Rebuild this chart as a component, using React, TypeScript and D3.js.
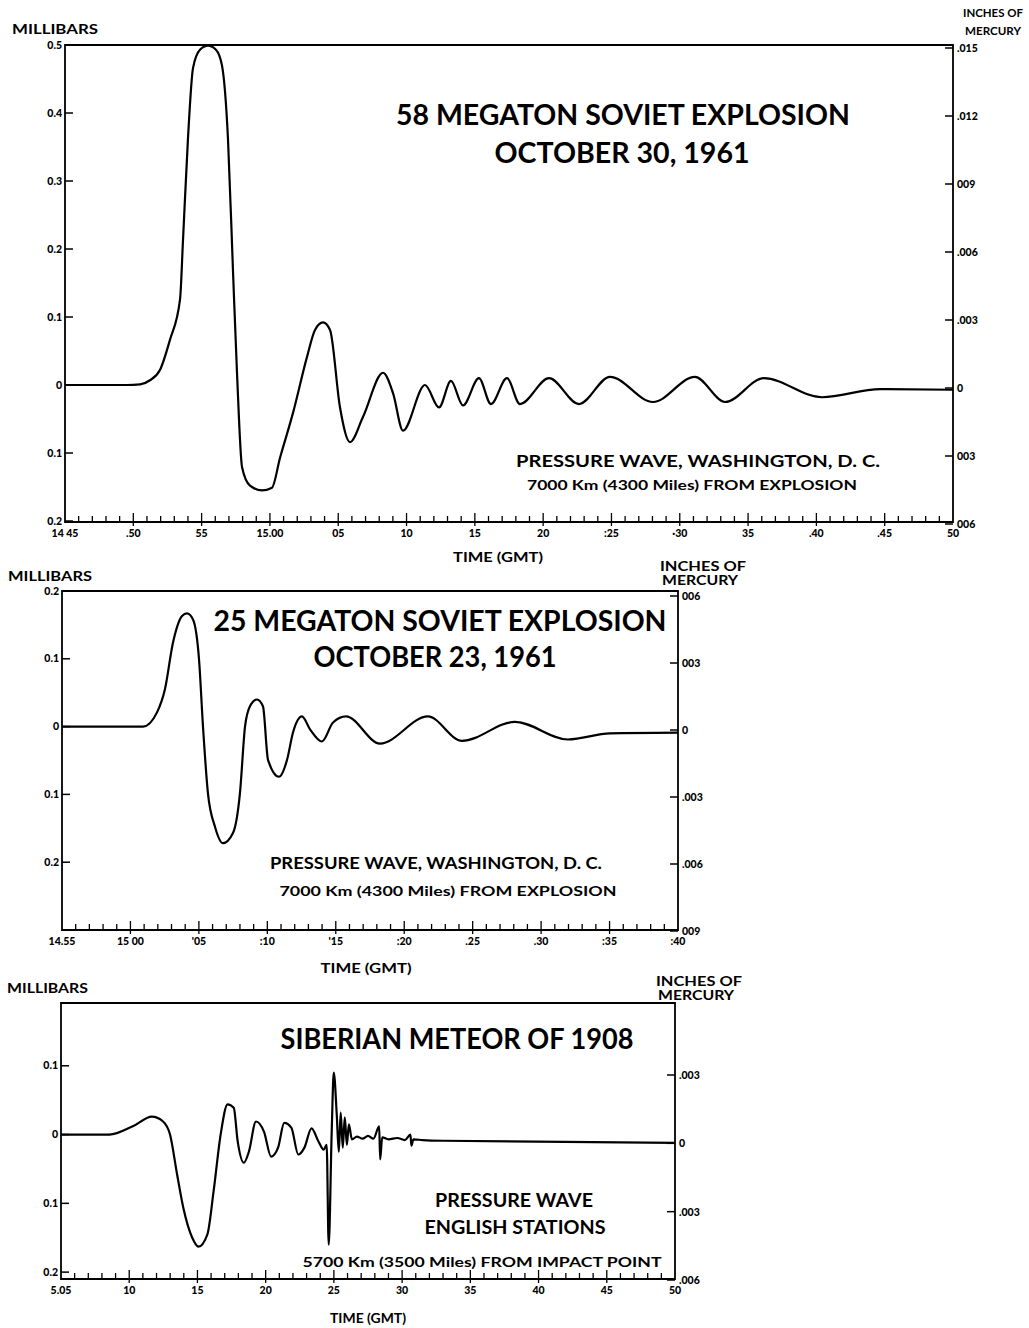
import * as d3 from 'd3';

const FONT = "Lato, 'DejaVu Sans', sans-serif";

// ---- 58 megaton, 30 Oct 1961 (minutes after 14:45, millibars)
const megaton58Time = [
  0, 4.5, 5.5, 6.22, 6.95, 7.69, 8.42, 8.64, 9.0, 9.37, 9.88, 10.47, 11.05, 11.49, 11.93, 12.3,
  12.59, 12.96, 13.54, 14.42, 15.15, 15.74, 16.69, 17.71, 18.3, 18.89, 19.4, 20.13, 20.86, 21.81,
  23.28, 24.01, 24.74, 26.35, 27.38, 28.25, 29.13, 30.3, 31.18, 32.35, 33.3, 35.43, 37.62, 39.89,
  43.04, 46.11, 48.31, 51.16, 55.41, 59.66, 65,
];
const megaton58Pressure = [
  0, 0, 0.001, 0.007, 0.022, 0.067, 0.126, 0.214, 0.362, 0.466, 0.493, 0.499, 0.493, 0.47, 0.362,
  0.166, 0.018, -0.121, -0.148, -0.155, -0.151, -0.107, -0.041, 0.041, 0.081, 0.092, 0.081, -0.033,
  -0.084, -0.047, 0.018, -0.012, -0.067, 0.0, -0.033, 0.006, -0.03, 0.01, -0.028, 0.01, -0.028,
  0.01, -0.028, 0.012, -0.025, 0.012, -0.025, 0.01, -0.018, -0.006, -0.007,
];

// ---- 25 megaton, 23 Oct 1961 (minutes after 14:55)
const megaton25Time = [
  0, 5.92, 6.94, 7.52, 8.11, 8.77, 9.13, 9.57, 10.01, 10.3, 10.66, 11.18, 11.76, 12.49, 13.0, 13.37,
  13.73, 14.24, 14.68, 15.05, 15.85, 16.44, 16.87, 17.53, 18.12, 18.99, 19.8, 20.75, 23.23, 26.73,
  29.22, 33.09, 36.96, 40.03, 45,
];
const megaton25Pressure = [
  0, 0, 0.021, 0.055, 0.124, 0.163, 0.167, 0.158, 0.099, 0.0, -0.098, -0.148, -0.172, -0.157, -0.098,
  0.0, 0.03, 0.04, 0.03, -0.049, -0.074, -0.049, -0.009, 0.015, -0.004, -0.022, 0.006, 0.015, -0.025,
  0.015, -0.021, 0.007, -0.019, -0.01, -0.009,
];

// ---- Siberian meteor 1908 (minutes after 5:05)
const meteorTime = [
  0, 3.55, 5.26, 6.66, 7.48, 7.99, 8.51, 8.96, 9.62, 10.07, 10.73, 11.18, 11.7, 12.21, 12.66, 12.95,
  13.4, 13.77, 14.29, 14.88, 15.4, 15.91, 16.36, 16.88, 17.39, 17.84, 18.36, 18.87, 19.25, 19.47,
  19.62, 19.84, 19.99, 20.21, 20.36, 20.5, 20.65, 20.8, 20.95, 21.1, 21.32, 21.69, 22.1, 22.5, 22.9,
  23.32, 23.39, 23.54, 24.0, 24.65, 25.2, 25.61, 25.68, 25.83, 26.5, 27.98, 45,
];
const meteorPressure = [
  0, 0, 0.012, 0.026, 0.019, 0, -0.058, -0.106, -0.15, -0.163, -0.145, -0.083, 0, 0.044, 0.039,
  -0.01, -0.041, -0.025, 0.019, 0.004, -0.032, -0.019, 0.017, 0.01, -0.029, -0.019, 0.009, -0.01,
  -0.022, -0.015, -0.16, 0.004, 0.09, 0.029, -0.025, 0.032, -0.019, 0.025, -0.015, 0.015, -0.007,
  -0.003, -0.006, -0.002, -0.006, 0.012, -0.036, -0.004, -0.007, -0.005, -0.008, 0.0, -0.016, -0.007,
  -0.008, -0.009, -0.012,
];

const topXLabels = ['14 45', '.50', '55', '15.00', '05', '10', '15', '20', ':25', '\u00b730', '35', '.40', '.45', '50'];
const midXLabels = ['14.55', '15 00', "'05", ':10', "'15", ':20', '.25', '.30', ':35', ':40'];
const botXLabels = ['5.05', '10', '15', '20', '25', '30', '35', '40', '45', '50'];

const topMbTicks = [0.5, 0.4, 0.3, 0.2, 0.1, 0, -0.1, -0.2];
const topMbLabels = ['0.5', '0.4', '0.3', '0.2', '0.1', '0', '0.1', '0.2'];
const midMbTicks = [0.2, 0.1, 0, -0.1, -0.2];
const midMbLabels = ['0.2', '0.1', '0', '0.1', '0.2'];
const botMbTicks = [0.1, 0, -0.1, -0.2];
const botMbLabels = ['0.1', '0', '0.1', '0.2'];

const topHgTicks = [0.015, 0.012, 0.009, 0.006, 0.003, 0, -0.003, -0.006];
const topHgLabels = ['.015', '.012', '009', '.006', '.003', '0', '003', '006'];
const midHgTicks = [0.006, 0.003, 0, -0.003, -0.006, -0.009];
const midHgLabels = ['006', '003', '0', '.003', '.006', '009'];
const botHgTicks = [0.003, 0, -0.003, -0.006];
const botHgLabels = ['.003', '0', '.003', '.006'];

interface Txt {
  text: string;
  x: number;
  y: number;
  size: number;
  width?: number;
  anchor?: 'start' | 'middle' | 'end';
}

interface PanelProps {
  x0: number;
  x1: number;
  yTop: number;
  yBottom: number;
  minutes: number;
  yDomain: [number, number];
  yRange: [number, number];
  hgDomain: [number, number];
  hgRange: [number, number];
  time: number[];
  pressure: number[];
  xLabels: string[];
  mbTicks: number[];
  mbLabels: string[];
  hgTicks: number[];
  hgLabels: string[];
  texts: Txt[];
}

function Panel(p: PanelProps) {
  const x = d3.scaleLinear().domain([0, p.minutes]).range([p.x0, p.x1]);
  const y = d3.scaleLinear().domain(p.yDomain).range(p.yRange);
  const hg = d3.scaleLinear().domain(p.hgDomain).range(p.hgRange);
  const pts = p.time.map((t, i) => [t, p.pressure[i]] as [number, number]);
  const line = d3
    .line<[number, number]>()
    .x((d) => x(d[0]))
    .y((d) => y(d[1]))
    .curve(d3.curveMonotoneX);
  const minorTicks = d3.range(1, p.minutes);

  return (
    <g>
      {/* frame */}
      <path
        d={`M${p.x0},${p.yBottom}V${p.yTop}H${p.x1}V${p.yBottom}Z`}
        fill="none"
        stroke="#000"
        strokeWidth={1.8}
      />
      {/* time ticks */}
      {minorTicks.map((m) => {
        const major = m % 5 === 0;
        return (
          <line
            key={m}
            x1={x(m)}
            x2={x(m)}
            y1={p.yBottom + (major ? 4 : 0)}
            y2={p.yBottom - (major ? 9 : 6)}
            stroke="#000"
            strokeWidth={1.3}
          />
        );
      })}
      {p.xLabels.map((lab, i) => (
        <text
          key={lab + i}
          x={x(i * 5)}
          y={p.yBottom + 15}
          fontSize={10.5}
          fontWeight={900}
          textAnchor="middle"
        >
          {lab}
        </text>
      ))}
      {/* millibar axis */}
      {p.mbTicks.map((v, i) => (
        <g key={'mb' + i}>
          <line x1={p.x0} x2={p.x0 + 8} y1={y(v)} y2={y(v)} stroke="#000" strokeWidth={1.5} />
          <text x={p.x0 - 3} y={y(v) + 3.5} fontSize={10.5} fontWeight={900} textAnchor="end">
            {p.mbLabels[i]}
          </text>
        </g>
      ))}
      {/* inches of mercury axis */}
      {p.hgTicks.map((v, i) => (
        <g key={'hg' + i}>
          <line x1={p.x1 - 8} x2={p.x1} y1={hg(v)} y2={hg(v)} stroke="#000" strokeWidth={1.5} />
          <text x={p.x1 + 4} y={hg(v) + 4} fontSize={10.5} fontWeight={900}>
            {p.hgLabels[i]}
          </text>
        </g>
      ))}
      <path d={line(pts) ?? ''} fill="none" stroke="#000" strokeWidth={2.2} strokeLinejoin="round" />
      {p.texts.map((t, i) => (
        <text
          key={'t' + i}
          x={t.x}
          y={t.y}
          fontSize={t.size}
          fontWeight={700}
          textAnchor={t.anchor ?? 'middle'}
          textLength={t.width}
          lengthAdjust="spacingAndGlyphs"
        >
          {t.text}
        </text>
      ))}
    </g>
  );
}

export default function App() {
  return (
    <svg
      width={1029}
      height={1328}
      viewBox="0 0 1029 1328"
      style={{ position: 'absolute', left: 0, top: 0, background: '#fff' }}
      fontFamily={FONT}
      fill="#000"
    >
      <rect width={1029} height={1328} fill="#fff" />
      <Panel
        x0={65}
        x1={953}
        yTop={45}
        yBottom={522}
        minutes={65}
        yDomain={[-0.2, 0.5]}
        yRange={[521, 45]}
        hgDomain={[-0.006, 0.015]}
        hgRange={[524, 48]}
        time={megaton58Time}
        pressure={megaton58Pressure}
        xLabels={topXLabels}
        mbTicks={topMbTicks}
        mbLabels={topMbLabels}
        hgTicks={topHgTicks}
        hgLabels={topHgLabels}
        texts={[
          { text: '58 MEGATON SOVIET EXPLOSION', x: 623, y: 125, size: 29, width: 454 },
          { text: 'OCTOBER 30, 1961', x: 622, y: 163, size: 29, width: 255 },
          { text: 'PRESSURE WAVE, WASHINGTON, D. C.', x: 698, y: 467, size: 17, width: 364 },
          { text: '7000 Km (4300 Miles) FROM EXPLOSION', x: 692, y: 490, size: 13.5, width: 330 },
          { text: 'MILLIBARS', x: 12, y: 34, size: 12.5, width: 86, anchor: 'start' },
          { text: 'INCHES OF', x: 1023, y: 17, size: 12, width: 60, anchor: 'end' },
          { text: 'MERCURY', x: 1021, y: 35, size: 12, width: 56, anchor: 'end' },
          { text: 'TIME (GMT)', x: 498, y: 562, size: 12.5, width: 90 },
        ]}
      />
      <Panel
        x0={62}
        x1={678}
        yTop={591}
        yBottom={930}
        minutes={45}
        yDomain={[-0.3, 0.2]}
        yRange={[930, 591]}
        hgDomain={[-0.009, 0.006]}
        hgRange={[931, 596]}
        time={megaton25Time}
        pressure={megaton25Pressure}
        xLabels={midXLabels}
        mbTicks={midMbTicks}
        mbLabels={midMbLabels}
        hgTicks={midHgTicks}
        hgLabels={midHgLabels}
        texts={[
          { text: '25 MEGATON SOVIET EXPLOSION', x: 440, y: 631, size: 29, width: 453 },
          { text: 'OCTOBER 23, 1961', x: 435, y: 667, size: 29, width: 243 },
          { text: 'PRESSURE WAVE, WASHINGTON, D. C.', x: 436, y: 869, size: 17, width: 332 },
          { text: '7000 Km (4300 Miles) FROM EXPLOSION', x: 448, y: 896, size: 13.5, width: 337 },
          { text: 'MILLIBARS', x: 8, y: 581, size: 12.5, width: 84, anchor: 'start' },
          { text: 'INCHES OF', x: 703, y: 571, size: 12.5, width: 86 },
          { text: 'MERCURY', x: 700, y: 585, size: 12.5, width: 76 },
          { text: 'TIME (GMT)', x: 366, y: 973, size: 12.5, width: 91 },
        ]}
      />
      <Panel
        x0={61}
        x1={675}
        yTop={1003}
        yBottom={1279}
        minutes={45}
        yDomain={[-0.21, 0.2]}
        yRange={[1279, 997]}
        hgDomain={[-0.006, 0.003]}
        hgRange={[1280, 1075]}
        time={meteorTime}
        pressure={meteorPressure}
        xLabels={botXLabels}
        mbTicks={botMbTicks}
        mbLabels={botMbLabels}
        hgTicks={botHgTicks}
        hgLabels={botHgLabels}
        texts={[
          { text: 'SIBERIAN METEOR OF 1908', x: 457, y: 1049, size: 29, width: 353 },
          { text: 'PRESSURE WAVE', x: 514, y: 1207, size: 18, width: 158 },
          { text: 'ENGLISH STATIONS', x: 515, y: 1234, size: 18, width: 181 },
          { text: '5700 Km (3500 Miles) FROM IMPACT POINT', x: 482, y: 1267, size: 14, width: 359 },
          { text: 'MILLIBARS', x: 7, y: 993, size: 12.5, width: 81, anchor: 'start' },
          { text: 'INCHES OF', x: 699, y: 986, size: 12.5, width: 86 },
          { text: 'MERCURY', x: 696, y: 1000, size: 12.5, width: 76 },
          { text: 'TIME (GMT)', x: 368, y: 1323, size: 12.5, width: 76 },
        ]}
      />
    </svg>
  );
}
